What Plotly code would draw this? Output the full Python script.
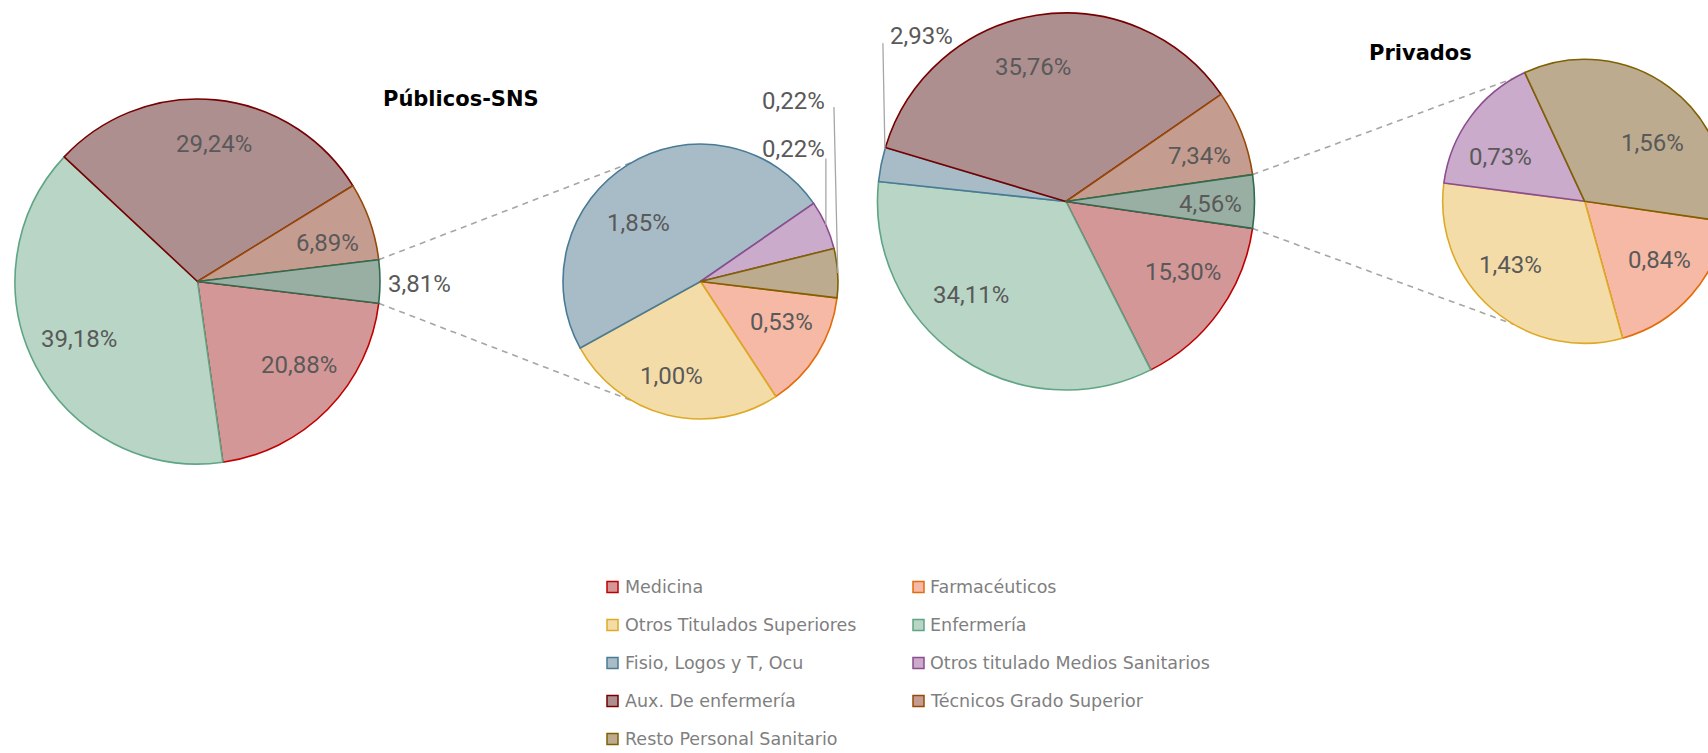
import math
import plotly.graph_objects as go

# ---------------- data ----------------
categories = ["Medicina", "Farmacéuticos", "Otros Titulados Superiores", "Enfermería",
              "Fisio, Logos y T, Ocu", "Otros titulado Medios Sanitarios",
              "Aux. De enfermería", "Técnicos Grado Superior", "Resto Personal Sanitario"]

pub_main_labels = ["Medicina", "Enfermería", "Aux. De enfermería", "Técnicos Grado Superior", "Otros"]
pub_main_values = [20.88, 39.18, 29.24, 6.89, 3.81]
pub_sec_labels = ["Farmacéuticos", "Otros Titulados Superiores", "Fisio, Logos y T, Ocu",
                  "Otros titulado Medios Sanitarios", "Resto Personal Sanitario"]
pub_sec_values = [0.53, 1.00, 1.85, 0.22, 0.22]

priv_main_labels = ["Medicina", "Enfermería", "Fisio, Logos y T, Ocu", "Aux. De enfermería",
                    "Técnicos Grado Superior", "Otros"]
priv_main_values = [15.30, 34.11, 2.93, 35.76, 7.34, 4.56]
priv_sec_labels = ["Farmacéuticos", "Otros Titulados Superiores",
                   "Otros titulado Medios Sanitarios", "Resto Personal Sanitario"]
priv_sec_values = [0.84, 1.43, 0.73, 1.56]

titles = ["Públicos-SNS", "Privados"]

# ---------------- styles ----------------
FILL = {
    "Medicina": "#d49797", "Farmacéuticos": "#f5b9a6", "Otros Titulados Superiores": "#f3dca8",
    "Enfermería": "#b8d5c6", "Fisio, Logos y T, Ocu": "#a8bcc8",
    "Otros titulado Medios Sanitarios": "#caabcb", "Aux. De enfermería": "#ae8f90",
    "Técnicos Grado Superior": "#c59c90", "Resto Personal Sanitario": "#bcab8f", "Otros": "#99afa3",
}
LINE = {
    "Medicina": "#c00000", "Farmacéuticos": "#e46c0a", "Otros Titulados Superiores": "#deaa26",
    "Enfermería": "#5fa585", "Fisio, Logos y T, Ocu": "#4a7b96",
    "Otros titulado Medios Sanitarios": "#8c4c8f", "Aux. De enfermería": "#760000",
    "Técnicos Grado Superior": "#974806", "Resto Personal Sanitario": "#806000", "Otros": "#2f6b50",
}

W, H = 1760, 753
# pixel geometry of the four pies (centre x, centre y, radius)
GEOM = {
    "pub_main": (197.5, 281.5, 182.5),
    "pub_sec": (700.5, 281.5, 137.5),
    "priv_main": (1066.0, 201.5, 188.5),
    "priv_sec": (1584.7, 201.3, 142.0),
}
# inside label placement: (angle shift from slice middle, radial fraction)
LABEL_POS = {
    "pub_main": {"Medicina": (-5, 0.72), "Enfermería": (1.5, 0.725), "Aux. De enfermería": (1, 0.76),
                 "Técnicos Grado Superior": (2.7, 0.745)},
    "pub_sec": {"Farmacéuticos": (-5, 0.66), "Otros Titulados Superiores": (3, 0.72),
                "Fisio, Logos y T, Ocu": (-15, 0.62)},
    "priv_main": {"Medicina": (-4.7, 0.725), "Enfermería": (10.8, 0.71), "Aux. De enfermería": (-4.8, 0.735),
                  "Técnicos Grado Superior": (2.6, 0.75), "Otros": (1, 0.765)},
    "priv_sec": {"Farmacéuticos": (-3.4, 0.67), "Otros Titulados Superiores": (8.3, 0.69),
                 "Otros titulado Medios Sanitarios": (-8.5, 0.67), "Resto Personal Sanitario": (13, 0.63)},
}
# outside labels: slice fraction for anchor point, label offset, anchor, leader end offset
OUTSIDE = {
    ("pub_main", "Otros"): dict(frac=0.5, dx=6, dy=2, xanchor="left", leader=None),
    ("pub_sec", "Otros titulado Medios Sanitarios"): dict(frac=0.5, dx=1, dy=-76.5, xanchor="right", leader=(-1, 10)),
    ("pub_sec", "Resto Personal Sanitario"): dict(frac=0.5, dx=-10.8, dy=-172, xanchor="right", leader=(7, 6)),
    ("priv_main", "Fisio, Logos y T, Ocu"): dict(frac=0.95, dx=3, dy=-113, xanchor="left", leader=(-5, 7)),
}
CONNECT_ANGLE = 30
TITLE_POS = [(461, 99), (1420, 53)]
LEG_COLS = [(607, 623), (913, 928)]
LEG_Y0, LEG_DY, SW = 587, 38, 11

LABEL_FONT = dict(family="Roboto, sans-serif", size=24, color="#595959")
LEGEND_FONT = dict(family="DejaVu Sans, sans-serif", size=17.5, color="#7f7f7f")
TITLE_FONT = dict(family="DejaVu Sans, sans-serif", size=21, color="#000000")


def X(p):
    return p / W


def Y(p):
    return 1 - p / H


def polar(cx, cy, r, ang):
    t = math.radians(ang)
    return cx + r * math.sin(t), cy - r * math.cos(t)


def slice_angles(values, rotation):
    total = sum(values)
    out, a = [], rotation
    for v in values:
        span = v / total * 360.0
        out.append((a, a + span))
        a += span
    return out


def fmt(v):
    return f"{v:.2f}".replace(".", ",") + "%"


fig = go.Figure()
annotations, shapes = [], []

groups = [
    ("pub_main", pub_main_labels, pub_main_values, "pub_sec", pub_sec_labels, pub_sec_values),
    ("priv_main", priv_main_labels, priv_main_values, "priv_sec", priv_sec_labels, priv_sec_values),
]

for gi, (mk, ml, mv, sk, sl, sv) in enumerate(groups):
    rotation = 90 + mv[-1] / sum(mv) * 360 / 2
    for key, labels, values in ((mk, ml, mv), (sk, sl, sv)):
        cx, cy, r = GEOM[key]
        fig.add_trace(go.Pie(
            labels=labels, values=values, sort=False, direction="clockwise", rotation=rotation,
            domain=dict(x=[X(cx - r), X(cx + r)], y=[Y(cy + r), Y(cy - r)]),
            marker=dict(colors=[FILL[l] for l in labels],
                        line=dict(color=[LINE[l] for l in labels], width=1.6)),
            textinfo="none", hoverinfo="label+value", showlegend=False, name=key,
        ))
        angs = slice_angles(values, rotation)
        for lab, val, (a0, a1) in zip(labels, values, angs):
            if (key, lab) in OUTSIDE:
                o = OUTSIDE[(key, lab)]
                px_, py_ = polar(cx, cy, r, a0 + o["frac"] * (a1 - a0))
                lx, ly = px_ + o["dx"], py_ + o["dy"]
                annotations.append(dict(x=X(lx), y=Y(ly), xref="paper", yref="paper", text=fmt(val),
                                        showarrow=False, xanchor=o["xanchor"], yanchor="middle",
                                        font=LABEL_FONT))
                if o["leader"]:
                    ex, ey = lx + o["leader"][0], ly + o["leader"][1]
                    shapes.append(dict(type="line", xref="paper", yref="paper",
                                       x0=X(px_), y0=Y(py_), x1=X(ex), y1=Y(ey),
                                       line=dict(color="#a6a6a6", width=1.3)))
            else:
                shift, f = LABEL_POS[key].get(lab, (0, 0.72))
                tx, ty = polar(cx, cy, f * r, (a0 + a1) / 2 + shift)
                annotations.append(dict(x=X(tx), y=Y(ty), xref="paper", yref="paper", text=fmt(val),
                                        showarrow=False, xanchor="center", yanchor="middle",
                                        font=LABEL_FONT))
    # connector lines main "Otros" slice -> secondary pie
    cx, cy, r = GEOM[mk]
    a0, a1 = slice_angles(mv, rotation)[-1]
    scx, scy, sr = GEOM[sk]
    for am, asec in ((a0, 360 - CONNECT_ANGLE), (a1, 180 + CONNECT_ANGLE)):
        x0, y0 = polar(cx, cy, r, am)
        x1, y1 = polar(scx, scy, sr, asec)
        shapes.append(dict(type="line", xref="paper", yref="paper", layer="below",
                           x0=X(x0), y0=Y(y0), x1=X(x1), y1=Y(y1),
                           line=dict(color="#a6a6a6", width=1.6, dash="6px,5px")))
    tx, ty = TITLE_POS[gi]
    annotations.append(dict(x=X(tx), y=Y(ty), xref="paper", yref="paper", text="<b>" + titles[gi] + "</b>",
                            showarrow=False, xanchor="center", yanchor="middle", font=TITLE_FONT))

# manual two-column legend
for i, cat in enumerate(categories):
    row, col = divmod(i, 2)
    sx, tx = LEG_COLS[col]
    yc = LEG_Y0 + row * LEG_DY
    shapes.append(dict(type="rect", xref="paper", yref="paper",
                       x0=X(sx), x1=X(sx + SW), y0=Y(yc + SW / 2), y1=Y(yc - SW / 2),
                       fillcolor=FILL[cat], line=dict(color=LINE[cat], width=1.5)))
    annotations.append(dict(x=X(tx), y=Y(yc), xref="paper", yref="paper", text=cat, showarrow=False,
                            xanchor="left", yanchor="middle", font=LEGEND_FONT))

fig.update_layout(
    width=W, height=H, margin=dict(l=0, r=0, t=0, b=0),
    paper_bgcolor="white", plot_bgcolor="white",
    annotations=annotations, shapes=shapes, showlegend=False,
)

fig.write_html(
    "out.html",
    config={"displayModeBar": False},
    post_script="document.body.style.margin='0';document.body.style.overflow='hidden';"
                "document.documentElement.style.overflow='hidden';",
)
